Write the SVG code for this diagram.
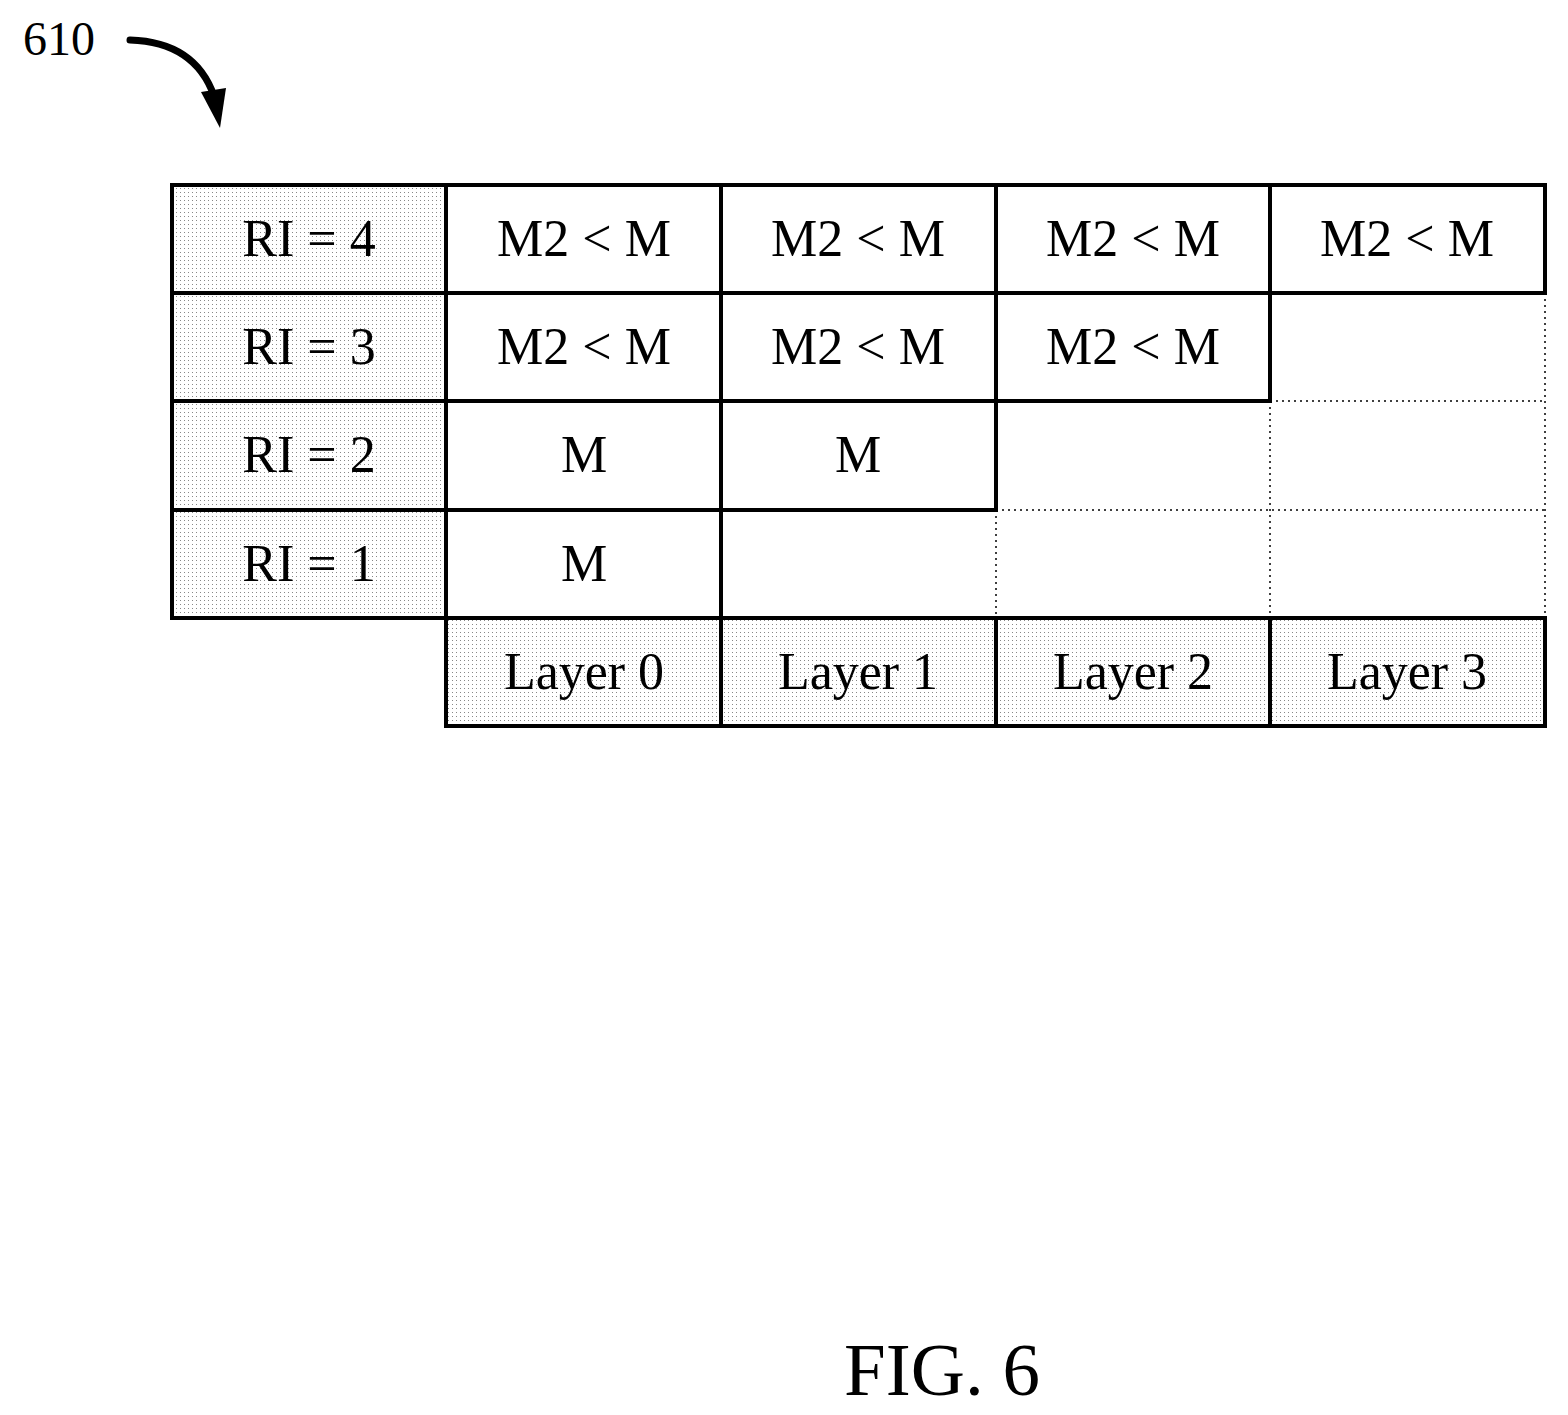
<svg xmlns="http://www.w3.org/2000/svg" width="1568" height="1415" viewBox="0 0 1568 1415">
<defs>
<pattern id="dots" width="4" height="4" patternUnits="userSpaceOnUse"><rect width="4" height="4" fill="#fff"/><rect width="1" height="1" fill="#888"/></pattern>
</defs>
<style>
text{font-family:"Liberation Serif",serif;font-size:52px;text-anchor:middle;fill:#000}
.sh{fill:url(#dots);stroke:#000;stroke-width:4}
.wc{fill:#fff;stroke:#000;stroke-width:4}
.dot{stroke:#000;stroke-width:1.5;stroke-dasharray:2 4;fill:none}
</style>
<rect width="1568" height="1415" fill="#fff"/>
<g id="label610"><text x="59" y="55" style="font-size:48px">610</text></g>
<g id="connectors">
<path d="M130,40 Q195,42 214,96" stroke="#000" stroke-width="7" fill="none" stroke-linecap="round"/>
<path d="M201,92 L226,88 L220,128 Z" fill="#000"/>
</g>
<g id="grid-dotted">
<line class="dot" x1="996" y1="510" x2="996" y2="618"/>
<line class="dot" x1="1270" y1="401" x2="1270" y2="618"/>
<line class="dot" x1="1545" y1="293" x2="1545" y2="618"/>
<line class="dot" x1="1270" y1="401" x2="1545" y2="401"/>
<line class="dot" x1="996" y1="510" x2="1545" y2="510"/>
</g>
<g id="ri4"><rect class="sh" x="172" y="185" width="274" height="108"/><text x="309" y="256">RI = 4</text></g>
<g id="ri3"><rect class="sh" x="172" y="293" width="274" height="108"/><text x="309" y="364">RI = 3</text></g>
<g id="ri2"><rect class="sh" x="172" y="401" width="274" height="109"/><text x="309" y="472">RI = 2</text></g>
<g id="ri1"><rect class="sh" x="172" y="510" width="274" height="108"/><text x="309" y="581">RI = 1</text></g>
<g id="r4c0"><rect class="wc" x="446" y="185" width="275" height="108"/><text x="584" y="256">M2 &lt; M</text></g>
<g id="r4c1"><rect class="wc" x="721" y="185" width="275" height="108"/><text x="858" y="256">M2 &lt; M</text></g>
<g id="r4c2"><rect class="wc" x="996" y="185" width="274" height="108"/><text x="1133" y="256">M2 &lt; M</text></g>
<g id="r4c3"><rect class="wc" x="1270" y="185" width="275" height="108"/><text x="1407" y="256">M2 &lt; M</text></g>
<g id="r3c0"><rect class="wc" x="446" y="293" width="275" height="108"/><text x="584" y="364">M2 &lt; M</text></g>
<g id="r3c1"><rect class="wc" x="721" y="293" width="275" height="108"/><text x="858" y="364">M2 &lt; M</text></g>
<g id="r3c2"><rect class="wc" x="996" y="293" width="274" height="108"/><text x="1133" y="364">M2 &lt; M</text></g>
<g id="r2c0"><rect class="wc" x="446" y="401" width="275" height="109"/><text x="584" y="472">M</text></g>
<g id="r2c1"><rect class="wc" x="721" y="401" width="275" height="109"/><text x="858" y="472">M</text></g>
<g id="r1c0"><rect class="wc" x="446" y="510" width="275" height="108"/><text x="584" y="581">M</text></g>
<g id="l0"><rect class="sh" x="446" y="618" width="275" height="108"/><text x="584" y="689">Layer 0</text></g>
<g id="l1"><rect class="sh" x="721" y="618" width="275" height="108"/><text x="858" y="689">Layer 1</text></g>
<g id="l2"><rect class="sh" x="996" y="618" width="274" height="108"/><text x="1133" y="689">Layer 2</text></g>
<g id="l3"><rect class="sh" x="1270" y="618" width="275" height="108"/><text x="1407" y="689">Layer 3</text></g>
<g id="caption"><text x="942" y="1395" style="font-size:75px">FIG. 6</text></g>
</svg>
